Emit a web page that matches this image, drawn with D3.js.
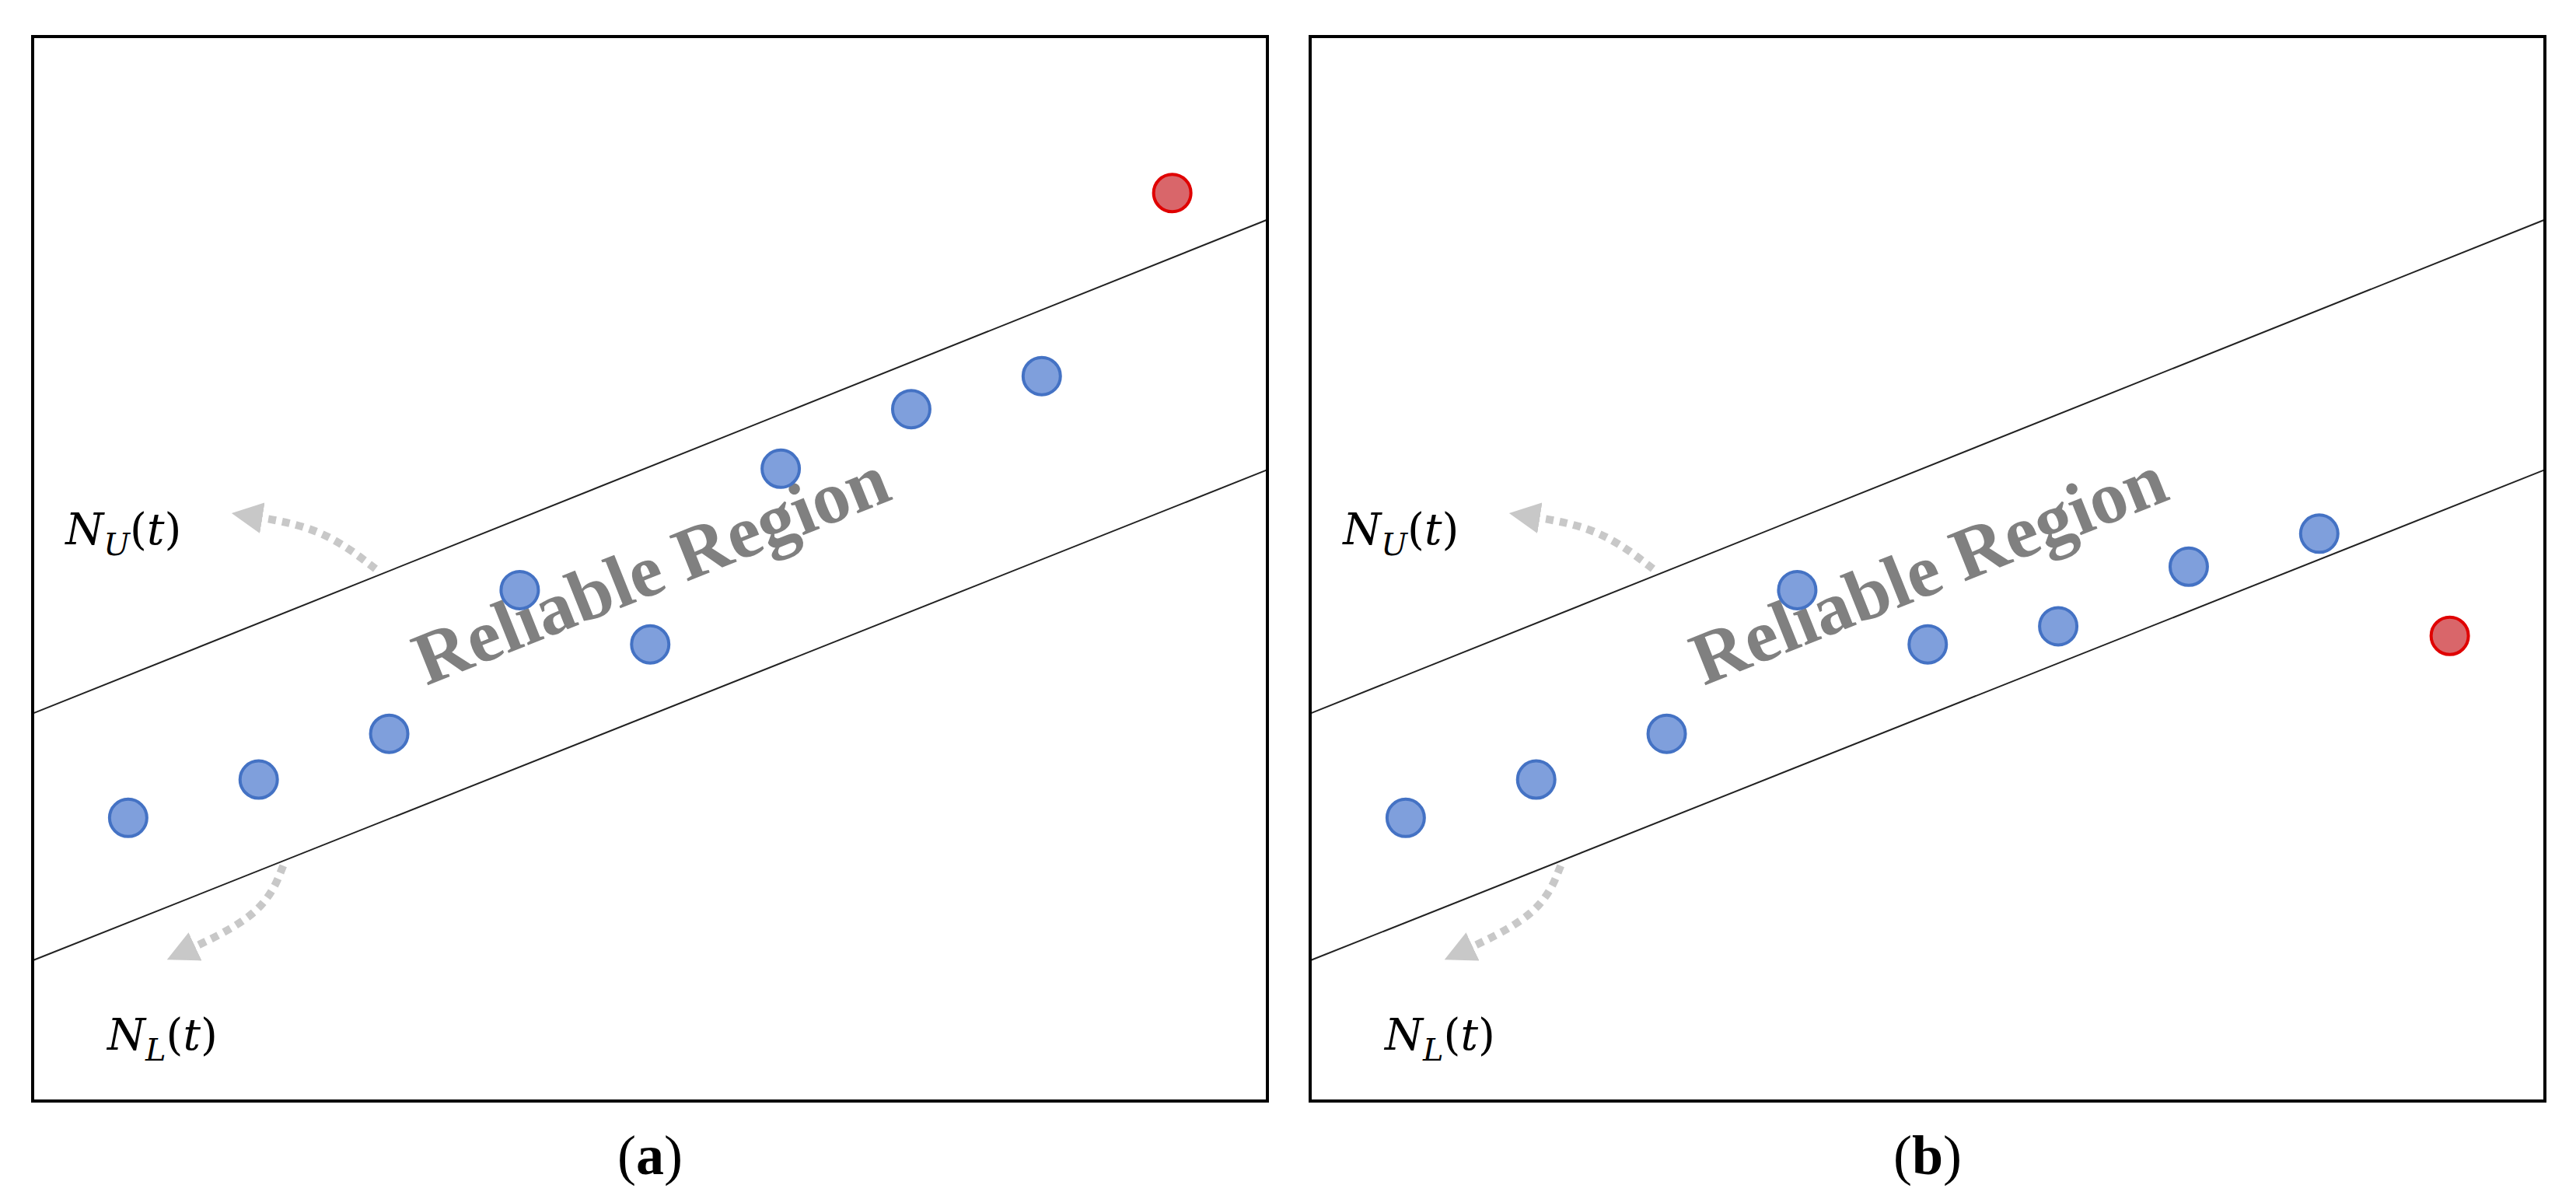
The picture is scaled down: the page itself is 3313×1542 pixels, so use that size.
<!DOCTYPE html>
<html><head><meta charset="utf-8">
<script src="https://cdn.jsdelivr.net/npm/d3@7"></script>
<style>body{margin:0;background:#fff}</style></head>
<body><svg id="c" width="3313" height="1542"></svg>
<script>
const panels = ["a", "b"];
const tA = [1,2,3,4,5,6,7,8];
const valuesA = [26.6,30.2,34.5,48.0,42.9,59.4,65.0,68.1];
const outlierA = {t:9, v:85.3};
const valuesB = [26.6,30.2,34.5,48.0,42.9,44.6,50.2,53.3];
const outlierB = {t:9, v:43.7};
const upperBand = [{t:0.268,v:36.4},{t:9.729,v:82.8}];
const lowerBand = [{t:0.268,v:13.2},{t:9.729,v:59.3}];
const upperArrow = [{t:2.895,v:50.0},{t:2.479,v:53.9},{t:1.91,v:55.0}];
const lowerArrow = [{t:2.188,v:22.1},{t:2.036,v:17.5},{t:1.405,v:13.9}];
const regionLabel = "Reliable Region";

const svg = d3.select("#c");
const W = 1588, H = 1369, plotTop = 47;
const lefts = [42, 1685];
svg.append("defs").append("marker").attr("id","ah").attr("viewBox","0 0 10 10")
  .attr("refX",5).attr("refY",5).attr("markerWidth",4).attr("markerHeight",4)
  .attr("orient","auto").append("path").attr("d","M0,0L10,5L0,10Z").attr("fill","#c8c8c8");

panels.forEach((p,i)=>{
  const vals = i===0?valuesA:valuesB, out = i===0?outlierA:outlierB;
  const x = d3.scaleLinear().domain([0.268,9.729]).range([lefts[i], lefts[i]+W]);
  const y = d3.scaleLinear().domain([0,100]).range([plotTop+H, plotTop]);
  const g = svg.append("g");
  const line = d3.line().x(d=>x(d.t)).y(d=>y(d.v));
  [upperBand, lowerBand].forEach(b=>g.append("path").attr("d",line(b)).attr("stroke","#222").attr("stroke-width",2).attr("fill","none"));
  const curve = d3.line().x(d=>x(d.t)).y(d=>y(d.v)).curve(d3.curveBasis);
  [upperArrow, lowerArrow].forEach(a=>g.append("path").attr("d",curve(a)).attr("stroke","#c8c8c8")
     .attr("stroke-width",10).attr("stroke-dasharray","10 8").attr("fill","none").attr("marker-end","url(#ah)"));
  g.append("text").attr("transform",`translate(${x(5.005)},${y(50.0)}) rotate(-21.8)`)
    .attr("text-anchor","middle").attr("dominant-baseline","central")
    .attr("font-family","Liberation Serif").attr("font-weight","bold").attr("font-size",96)
    .attr("fill","#808080").text(regionLabel);
  g.selectAll("circle.p").data(vals).join("circle").attr("cx",(d,j)=>x(tA[j])).attr("cy",d=>y(d))
    .attr("r",24).attr("fill","#7f9fdc").attr("stroke","#4472c4").attr("stroke-width",4);
  g.append("circle").attr("cx",x(out.t)).attr("cy",y(out.v)).attr("r",24)
    .attr("fill","#d9666a").attr("stroke","#e00000").attr("stroke-width",4);
  const lab = (tt, vv, sub)=>{
    const t = g.append("text").attr("x",x(tt)).attr("y",y(vv)).attr("font-family","DejaVu Serif")
      .attr("font-size",56).attr("fill","#000");
    t.append("tspan").attr("font-style","italic").text("N");
    t.append("tspan").attr("font-style","italic").attr("font-size",40).attr("dy",14).text(sub);
    t.append("tspan").attr("dy",-14).text("(");
    t.append("tspan").attr("font-style","italic").text("t");
    t.append("tspan").text(")");
  };
  lab(0.52, 52.3, "U");
  lab(0.84, 4.8, "L");
  g.append("rect").attr("x",lefts[i]).attr("y",plotTop).attr("width",W).attr("height",H)
    .attr("fill","none").attr("stroke","#000").attr("stroke-width",4);
  const cap = svg.append("text").attr("x",lefts[i]+W/2).attr("y",1510).attr("text-anchor","middle")
    .attr("font-family","Liberation Serif").attr("font-size",72);
  cap.append("tspan").text("(");
  cap.append("tspan").attr("font-weight","bold").text(p);
  cap.append("tspan").text(")");
});
</script></body></html>
